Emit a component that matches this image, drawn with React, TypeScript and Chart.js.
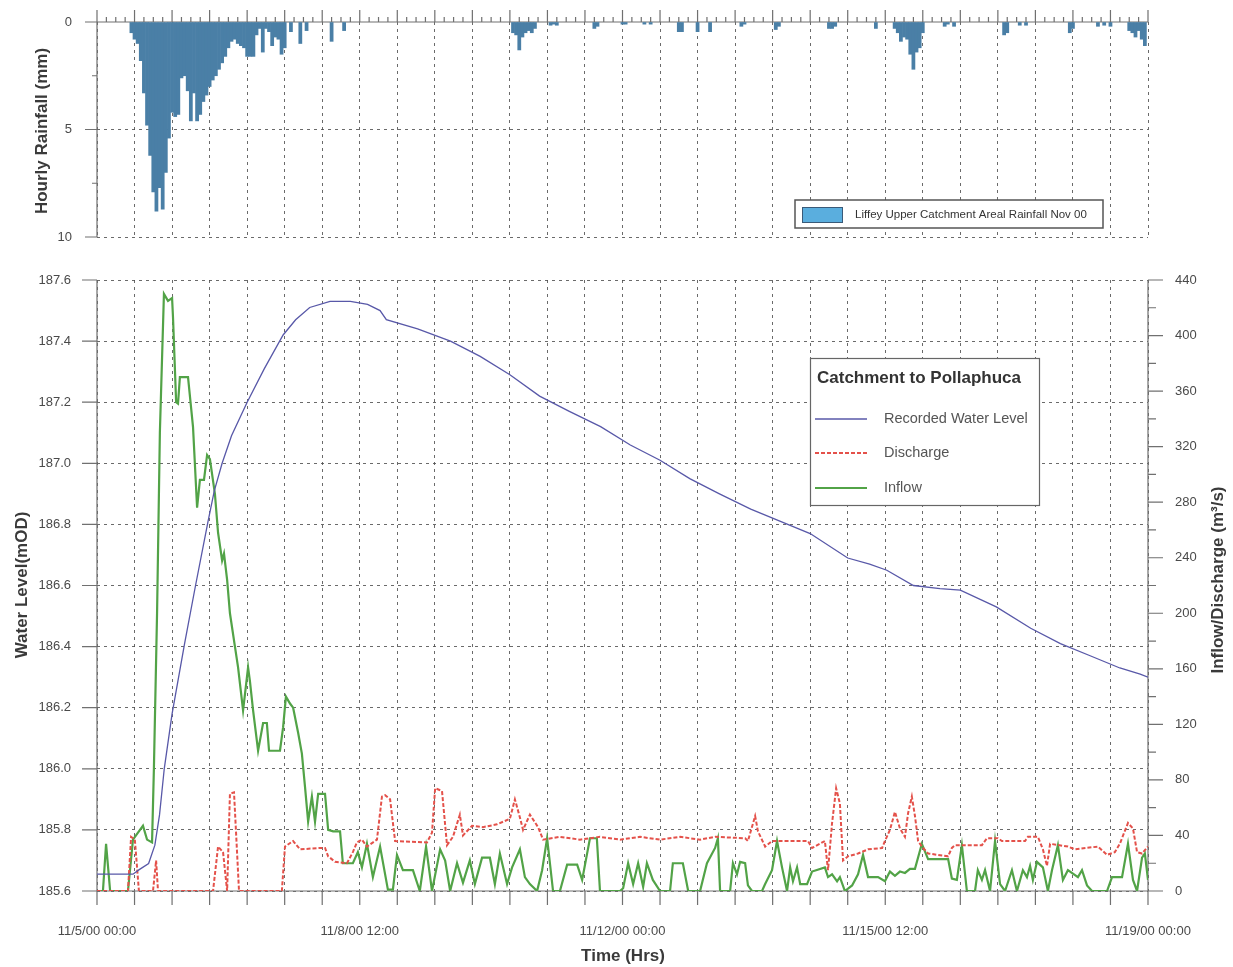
import React, { useEffect, useRef } from 'react';
import { Chart, registerables } from 'chart.js';

Chart.register(...registerables);

const FONT = '"Liberation Sans", Arial, Helvetica, sans-serif';
const GRID = 'rgba(80,80,80,0.85)';
const AXIS = '#707070';
const TICK_TEXT = '#4a4a4a';

// hours are counted from 11/5/00 00:00
const xTickLabels = ['11/5/00 00:00', '11/8/00 12:00', '11/12/00 00:00', '11/15/00 12:00', '11/19/00 00:00'];

const rainHours = [
  11, 12, 13, 14, 15, 16, 17, 18, 19, 20, 21, 22, 23, 24, 25, 26, 27, 28, 29, 30,
  31, 32, 33, 34, 35, 36, 37, 38, 39, 40, 41, 42, 43, 44, 45, 46, 47, 48, 49, 50,
  51, 52, 53, 54, 55, 56, 57, 58, 59, 60, 62, 65, 67, 75, 79,
  133, 134, 135, 136, 137, 138, 139, 140, 145, 146, 147, 159, 160, 168, 169, 175, 177,
  186, 187, 192, 196, 206, 207, 217, 218, 234, 235, 236, 249,
  255, 256, 257, 258, 259, 260, 261, 262, 263, 264, 271, 272, 274, 290, 291, 295, 297,
  311, 312, 320, 322, 324, 330, 331, 332, 333, 334, 335,
];
const rainValues = [
  0.5, 0.8, 1.0, 1.8, 3.3, 4.8, 6.2, 7.9, 8.8, 7.7, 8.7, 7.0, 5.4, 4.2, 4.4, 4.3, 2.6, 2.5, 3.2, 4.6,
  3.3, 4.6, 4.3, 3.7, 3.4, 3.0, 2.7, 2.5, 2.2, 1.9, 1.6, 1.2, 0.9, 0.8, 1.0, 1.1, 1.2, 1.6, 1.6, 1.6,
  0.6, 0.3, 1.4, 0.3, 0.45, 1.1, 0.7, 0.8, 1.5, 1.2, 0.45, 1.0, 0.4, 0.9, 0.4,
  0.5, 0.6, 1.3, 0.7, 0.5, 0.4, 0.5, 0.3, 0.15, 0.1, 0.15, 0.3, 0.2, 0.1, 0.1, 0.1, 0.1,
  0.45, 0.45, 0.45, 0.45, 0.2, 0.1, 0.35, 0.2, 0.3, 0.3, 0.2, 0.3,
  0.3, 0.5, 0.9, 0.7, 0.8, 1.5, 2.2, 1.4, 1.2, 0.5, 0.2, 0.1, 0.2, 0.6, 0.5, 0.15, 0.15,
  0.5, 0.3, 0.2, 0.15, 0.2, 0.4, 0.5, 0.7, 0.4, 0.8, 1.1,
];

const levelHours = [
  0, 11.5, 13.5, 16.5, 18.5, 20, 21.5, 24, 28, 31.5, 35.5, 37.5, 40, 43, 48, 53.5, 59.5, 63.5, 68, 74.5,
  81, 86.5, 90.5, 92.5, 102.5, 113, 122.5, 132, 141.5, 151, 161, 170.5, 180, 189.5, 199, 209, 218.5, 228,
  240, 247, 252.5, 261, 269.5, 276, 287.5, 298.5, 308, 317.5, 327, 333.5, 336,
];
const levelValues = [
  185.655, 185.655, 185.67, 185.69, 185.75, 185.85, 186.0, 186.18, 186.41, 186.6, 186.81, 186.91, 187.0,
  187.09, 187.2, 187.31, 187.42, 187.47, 187.51, 187.53, 187.53, 187.52, 187.5, 187.47, 187.44, 187.4,
  187.35, 187.29, 187.22, 187.17, 187.12, 187.06, 187.01, 186.95, 186.9, 186.85, 186.81, 186.77, 186.69,
  186.67, 186.65, 186.6, 186.59, 186.585, 186.53, 186.46, 186.41, 186.37, 186.33, 186.31, 186.3,
];

const dischargeSeries: [number, number][] = [
  [0, 0], [9.9, 0], [10.9, 39], [12.1, 37], [13.4, 0], [17.9, 0], [18.9, 22], [19.5, 0], [37.1, 0],
  [38.7, 32], [40.3, 28], [41.6, 0], [42.5, 70], [43.8, 71], [45.4, 0], [59.1, 0], [60.1, 32], [62.7, 36],
  [64.9, 30], [71.3, 31], [72.9, 31], [73.9, 25], [76.1, 21], [79.9, 20], [81.8, 28], [83.1, 35], [84.7, 37],
  [86.3, 32], [89.5, 37], [91.1, 68], [92.1, 69], [93.7, 66], [95.3, 36], [105.5, 35], [107.1, 42],
  [108.1, 74], [110.3, 72], [111.9, 33], [113.8, 39], [116.0, 55], [117.0, 40], [119.9, 47], [123.4, 46],
  [127.9, 48], [132.0, 52], [133.6, 66], [135.2, 53], [136.2, 44], [138.4, 55], [141.0, 46], [142.6, 37],
  [148.0, 39], [154.4, 37], [160.8, 39], [167.2, 37], [173.6, 39], [180.0, 37], [186.4, 39], [192.8, 37],
  [197.6, 39], [207.2, 38], [208.1, 36], [210.4, 54], [211.3, 43], [213.6, 32], [215.8, 36], [227.3, 36],
  [228.6, 31], [232.7, 36], [233.7, 15], [235.0, 49], [236.3, 74], [237.5, 63], [238.5, 22], [240.1, 25],
  [243.3, 27], [246.5, 30], [251.0, 31], [251.9, 36], [253.5, 44], [255.1, 57], [256.7, 45], [258.3, 39],
  [259.3, 56], [260.5, 68], [261.5, 54], [262.5, 36], [263.7, 32], [265.7, 27], [272.1, 25], [273.3, 31],
  [274.3, 33], [282.9, 33], [284.5, 38], [288.0, 38], [289.3, 36], [296.7, 36], [297.6, 39], [300.8, 39],
  [302.4, 30], [303.7, 18], [304.7, 34], [310.4, 32], [312.7, 30], [320.0, 32], [322.9, 26], [325.4, 28],
  [327.0, 34], [329.6, 49], [331.2, 45], [332.5, 28], [334.1, 27], [336.0, 32],
];

const inflowSeries: [number, number][] = [
  [0, 0], [1.9, 0], [2.9, 34], [4.2, 0], [9.9, 0], [11.5, 37], [13.1, 42], [14.7, 47], [16.0, 37],
  [17.6, 35], [18.2, 89], [19.2, 200], [20.1, 330], [21.4, 430], [22.7, 425], [24.0, 427], [24.3, 413],
  [25.3, 352], [25.9, 351], [26.5, 370], [29.1, 370], [30.7, 334], [32.0, 276], [32.9, 296], [34.2, 296],
  [35.2, 314], [36.1, 311], [37.7, 286], [38.7, 258], [40.0, 238], [40.6, 243], [41.6, 224], [42.5, 200],
  [44.1, 176], [45.1, 161], [46.7, 130], [48.3, 161], [48.9, 151], [49.9, 130], [51.5, 101], [53.1, 121],
  [54.3, 121], [55.0, 101], [58.5, 101], [59.5, 118], [60.4, 140], [61.7, 135], [62.7, 132], [64.3, 114],
  [65.5, 99], [66.5, 75], [67.5, 50], [68.7, 68], [69.7, 50], [70.7, 70], [72.9, 70], [73.9, 44],
  [75.5, 43], [77.7, 43], [78.6, 20], [81.8, 20], [83.4, 28], [84.7, 17], [86.3, 34], [88.2, 10],
  [90.5, 32], [93.0, 1], [94.6, 1], [95.9, 26], [97.8, 15], [101.0, 15], [103.2, 0], [105.2, 32],
  [107.1, 0], [109.7, 30], [111.3, 22], [112.9, 0], [115.1, 20], [117.0, 6], [119.2, 22], [120.8, 5],
  [123.1, 24], [125.6, 24], [127.2, 5], [128.8, 27], [131.1, 5], [132.7, 17], [135.2, 30], [136.8, 10],
  [138.4, 5], [140.7, 0], [142.3, 15], [143.9, 38], [145.8, 0], [148.0, 0], [150.3, 19], [153.5, 19],
  [155.1, 8], [157.6, 38], [159.8, 38], [160.8, 0], [167.2, 0], [168.2, 2], [169.8, 20], [171.4, 5],
  [173.0, 20], [174.6, 3], [175.8, 20], [177.7, 8], [180.0, 0], [183.2, 0], [184.1, 20], [187.3, 20],
  [189.0, 0], [192.8, 0], [195.0, 20], [197.6, 31], [198.5, 38], [199.2, 0], [202.4, 0], [203.3, 20],
  [204.6, 12], [205.6, 21], [207.2, 20], [208.1, 4], [209.4, 0], [212.6, 0], [213.6, 5], [215.8, 15],
  [217.4, 36], [219.0, 17], [220.6, 0], [221.6, 17], [222.5, 7], [223.8, 17], [224.8, 5], [227.0, 5],
  [228.6, 14], [232.7, 17], [233.7, 10], [235.0, 12], [236.6, 7], [237.5, 10], [239.1, 0], [241.4, 4],
  [243.3, 12], [244.9, 26], [246.5, 10], [249.7, 10], [251.9, 7], [253.5, 14], [255.1, 11], [256.7, 14],
  [258.3, 13], [259.9, 16], [261.5, 16], [263.7, 34], [265.7, 23], [272.1, 23], [273.3, 9], [274.9, 8],
  [276.5, 33], [278.1, 0], [280.7, 0], [281.6, 15], [282.9, 8], [283.9, 15], [285.5, 0], [287.1, 36],
  [288.7, 5], [290.3, 0], [292.5, 15], [294.1, 0], [296.0, 15], [297.3, 10], [298.3, 18], [299.2, 8],
  [300.5, 21], [302.4, 17], [304.0, 0], [305.3, 15], [307.2, 33], [308.8, 8], [310.4, 15], [313.6, 10],
  [314.9, 15], [316.5, 4], [318.1, 0], [322.9, 0], [324.5, 10], [327.7, 10], [329.6, 34], [331.2, 8],
  [332.5, 0], [334.1, 24], [335.0, 27], [336.0, 8],
];

const LEVEL_COLOR = '#5858a8';
const DISCHARGE_COLOR = '#e4514a';
const INFLOW_COLOR = '#52a347';
const RAIN_COLOR = '#4a7fa6';

function vText(ctx: CanvasRenderingContext2D, text: string, x: number, y: number, font: string, color: string) {
  ctx.save();
  ctx.translate(x, y);
  ctx.rotate(-Math.PI / 2);
  ctx.font = font;
  ctx.fillStyle = color;
  ctx.textAlign = 'center';
  ctx.textBaseline = 'middle';
  ctx.fillText(text, 0, 0);
  ctx.restore();
}

const noLabelPadding = (s: any) => {
  s.paddingTop = 0;
  s.paddingBottom = 0;
  s.paddingLeft = 0;
  s.paddingRight = 0;
};

const topDecor = {
  id: 'topDecor',
  beforeDatasetsDraw(chart: any) {
    const { ctx, chartArea: a, scales } = chart;
    const xs = scales.x;
    const ys = scales.y;
    ctx.save();
    ctx.strokeStyle = AXIS;
    ctx.lineWidth = 1.2;
    ctx.setLineDash([]);
    ctx.beginPath();
    ctx.moveTo(a.left, a.top - 12);
    ctx.lineTo(a.left, a.bottom);
    ctx.moveTo(a.left - 12, a.top);
    ctx.lineTo(a.right, a.top);
    for (let h = 0; h <= 336; h += 3) {
      const px = xs.getPixelForValue(h);
      const len = h % 12 === 0 ? 12 : 5;
      ctx.moveTo(px, a.top);
      ctx.lineTo(px, a.top - len);
    }
    for (let v = 2.5; v <= 10; v += 2.5) {
      const py = ys.getPixelForValue(v);
      const len = v % 5 === 0 ? 12 : 5;
      ctx.moveTo(a.left - len, py);
      ctx.lineTo(a.left, py);
    }
    ctx.stroke();
    ctx.restore();
  },
  afterDraw(chart: any) {
    const { ctx } = chart;
    vText(ctx, 'Hourly Rainfall (mm)', 42, 131, `bold 17px ${FONT}`, '#3a3a3a');
    ctx.save();
    ctx.fillStyle = '#fff';
    ctx.fillRect(795, 200, 308, 28);
    ctx.strokeStyle = '#555';
    ctx.lineWidth = 1.5;
    ctx.strokeRect(795, 200, 308, 28);
    ctx.fillStyle = '#5aaede';
    ctx.fillRect(802, 207, 40, 15);
    ctx.strokeStyle = '#3a5a78';
    ctx.lineWidth = 1;
    ctx.strokeRect(802.5, 207.5, 40, 15);
    ctx.fillStyle = '#333';
    ctx.font = `11.5px ${FONT}`;
    ctx.textAlign = 'left';
    ctx.textBaseline = 'middle';
    ctx.fillText('Liffey Upper Catchment Areal Rainfall Nov 00', 855, 215, 240);
    ctx.restore();
  },
};

const bottomDecor = {
  id: 'bottomDecor',
  beforeDatasetsDraw(chart: any) {
    const { ctx, chartArea: a, scales } = chart;
    const xs = scales.x;
    const ys = scales.y;
    const y1 = scales.y1;
    ctx.save();
    ctx.strokeStyle = AXIS;
    ctx.lineWidth = 1.2;
    ctx.setLineDash([]);
    ctx.beginPath();
    ctx.moveTo(a.left, a.top);
    ctx.lineTo(a.left, a.bottom);
    ctx.moveTo(a.right, a.top);
    ctx.lineTo(a.right, a.bottom);
    ctx.moveTo(a.left - 12, a.bottom);
    ctx.lineTo(a.right + 14, a.bottom);
    for (let h = 0; h <= 336; h += 12) {
      const px = xs.getPixelForValue(h);
      ctx.moveTo(px, a.bottom);
      ctx.lineTo(px, a.bottom + 14);
    }
    ys.ticks.forEach((t: any) => {
      const py = ys.getPixelForValue(t.value);
      ctx.moveTo(a.left - 15, py);
      ctx.lineTo(a.left, py);
    });
    for (let v = 0; v <= 440; v += 20) {
      const py = y1.getPixelForValue(v);
      const len = v % 40 === 0 ? 15 : 8;
      ctx.moveTo(a.right, py);
      ctx.lineTo(a.right + len, py);
    }
    ctx.stroke();
    ctx.restore();
  },
  afterDraw(chart: any) {
    const { ctx } = chart;
    vText(ctx, 'Water Level(mOD)', 22, 325, `bold 17px ${FONT}`, '#3a3a3a');
    vText(ctx, 'Inflow/Discharge (m\u00b3/s)', 1218, 320, `bold 17px ${FONT}`, '#3a3a3a');
    ctx.save();
    ctx.font = `bold 17px ${FONT}`;
    ctx.fillStyle = '#3a3a3a';
    ctx.textAlign = 'center';
    ctx.textBaseline = 'middle';
    ctx.fillText('Time (Hrs)', 623, 696);

    // legend
    const bx = 810, by = 98, bw = 229, bh = 147;
    ctx.fillStyle = '#fff';
    ctx.fillRect(bx, by, bw, bh);
    ctx.strokeStyle = '#666';
    ctx.lineWidth = 1.2;
    ctx.strokeRect(bx + 0.5, by + 0.5, bw, bh);
    ctx.fillStyle = '#333';
    ctx.textAlign = 'left';
    ctx.font = `bold 17px ${FONT}`;
    ctx.fillText('Catchment to Pollaphuca', 817, 118);
    const items = [
      { label: 'Recorded Water Level', color: LEVEL_COLOR, dash: [] as number[], w: 1.3, y: 159 },
      { label: 'Discharge', color: DISCHARGE_COLOR, dash: [4, 2], w: 2, y: 193 },
      { label: 'Inflow', color: INFLOW_COLOR, dash: [] as number[], w: 2.2, y: 228 },
    ];
    ctx.font = `14.5px ${FONT}`;
    items.forEach((it) => {
      ctx.strokeStyle = it.color;
      ctx.lineWidth = it.w;
      ctx.setLineDash(it.dash);
      ctx.beginPath();
      ctx.moveTo(815, it.y);
      ctx.lineTo(867, it.y);
      ctx.stroke();
      ctx.setLineDash([]);
      ctx.fillStyle = '#555';
      ctx.fillText(it.label, 884, it.y);
    });
    ctx.restore();
  },
};

export default function App() {
  const topRef = useRef<HTMLCanvasElement | null>(null);
  const botRef = useRef<HTMLCanvasElement | null>(null);

  useEffect(() => {
    const topChart = new Chart(topRef.current as HTMLCanvasElement, {
      type: 'bar',
      data: {
        datasets: [
          {
            label: 'Liffey Upper Catchment Areal Rainfall Nov 00',
            data: rainHours.map((h, i) => ({ x: h, y: rainValues[i] })),
            backgroundColor: RAIN_COLOR,
            borderWidth: 0,
            barThickness: 3.1,
          },
        ],
      },
      options: {
        responsive: false,
        animation: false,
        devicePixelRatio: 1,
        layout: { padding: { left: 0, right: 85, top: 22, bottom: 23 } },
        plugins: { legend: { display: false }, tooltip: { enabled: false } },
        scales: {
          x: {
            type: 'linear',
            position: 'top',
            offset: false,
            min: 0,
            max: 336,
            ticks: { display: false, stepSize: 12 },
            grid: { color: GRID, lineWidth: 1, drawTicks: false, offset: false },
            border: { display: false, dash: [3, 4] },
            afterFit: (s: any) => { s.height = 0; noLabelPadding(s); },
          },
          y: {
            type: 'linear',
            reverse: true,
            min: 0,
            max: 10,
            ticks: { stepSize: 5, padding: 25, color: TICK_TEXT, font: { family: FONT, size: 13 } },
            grid: {
              color: (c: any) => (c.tick && c.tick.value === 0 ? 'rgba(0,0,0,0)' : GRID),
              lineWidth: 1,
              drawTicks: false,
            },
            border: { display: false, dash: [3, 4] },
            afterFit: (s: any) => { s.width = 97; noLabelPadding(s); },
          },
        },
      } as any,
      plugins: [topDecor],
    });

    const botChart = new Chart(botRef.current as HTMLCanvasElement, {
      type: 'line',
      data: {
        datasets: [
          {
            label: 'Recorded Water Level',
            data: levelHours.map((h, i) => ({ x: h, y: levelValues[i] })),
            yAxisID: 'y',
            borderColor: LEVEL_COLOR,
            borderWidth: 1.3,
            pointRadius: 0,
            tension: 0,
            order: 0,
          },
          {
            label: 'Discharge',
            data: dischargeSeries.map(([h, v]) => ({ x: h, y: v })),
            yAxisID: 'y1',
            borderColor: DISCHARGE_COLOR,
            borderWidth: 2,
            borderDash: [4, 2],
            pointRadius: 0,
            tension: 0,
            order: 1,
          },
          {
            label: 'Inflow',
            data: inflowSeries.map(([h, v]) => ({ x: h, y: v })),
            yAxisID: 'y1',
            borderColor: INFLOW_COLOR,
            borderWidth: 2.2,
            pointRadius: 0,
            tension: 0,
            order: 2,
          },
        ],
      },
      options: {
        responsive: false,
        animation: false,
        devicePixelRatio: 1,
        layout: { padding: { left: 0, right: 0, top: 20, bottom: 0 } },
        plugins: { legend: { display: false }, tooltip: { enabled: false } },
        scales: {
          x: {
            type: 'linear',
            min: 0,
            max: 336,
            ticks: {
              stepSize: 12,
              autoSkip: false,
              maxRotation: 0,
              minRotation: 0,
              padding: 33,
              color: TICK_TEXT,
              font: { family: FONT, size: 13 },
              callback: (v: any) => (Number(v) % 84 === 0 ? xTickLabels[Number(v) / 84] : ''),
            },
            grid: { color: GRID, lineWidth: 1, drawTicks: false },
            border: { display: false, dash: [3, 4] },
            afterFit: (s: any) => { s.height = 76; noLabelPadding(s); },
          },
          y: {
            type: 'linear',
            position: 'left',
            min: 185.6,
            max: 187.6,
            ticks: {
              stepSize: 0.2,
              padding: 26,
              color: TICK_TEXT,
              font: { family: FONT, size: 13 },
              callback: (v: any) => Number(v).toFixed(1),
            },
            grid: { color: GRID, lineWidth: 1, drawTicks: false },
            border: { display: false, dash: [3, 4] },
            afterFit: (s: any) => { s.width = 97; noLabelPadding(s); },
          },
          y1: {
            type: 'linear',
            position: 'right',
            min: 0,
            max: 440,
            ticks: { stepSize: 40, padding: 27, color: TICK_TEXT, font: { family: FONT, size: 13 } },
            grid: { drawOnChartArea: false, drawTicks: false },
            border: { display: false },
            afterFit: (s: any) => { s.width = 85; noLabelPadding(s); },
          },
        },
      } as any,
      plugins: [bottomDecor],
    });

    return () => {
      topChart.destroy();
      botChart.destroy();
    };
  }, []);

  return (
    <div style={{ position: 'absolute', left: 0, top: 0, width: 1233, height: 967, background: '#fff' }}>
      <canvas ref={topRef} width={1233} height={260} style={{ position: 'absolute', left: 0, top: 0 }} />
      <canvas ref={botRef} width={1233} height={707} style={{ position: 'absolute', left: 0, top: 260 }} />
    </div>
  );
}
